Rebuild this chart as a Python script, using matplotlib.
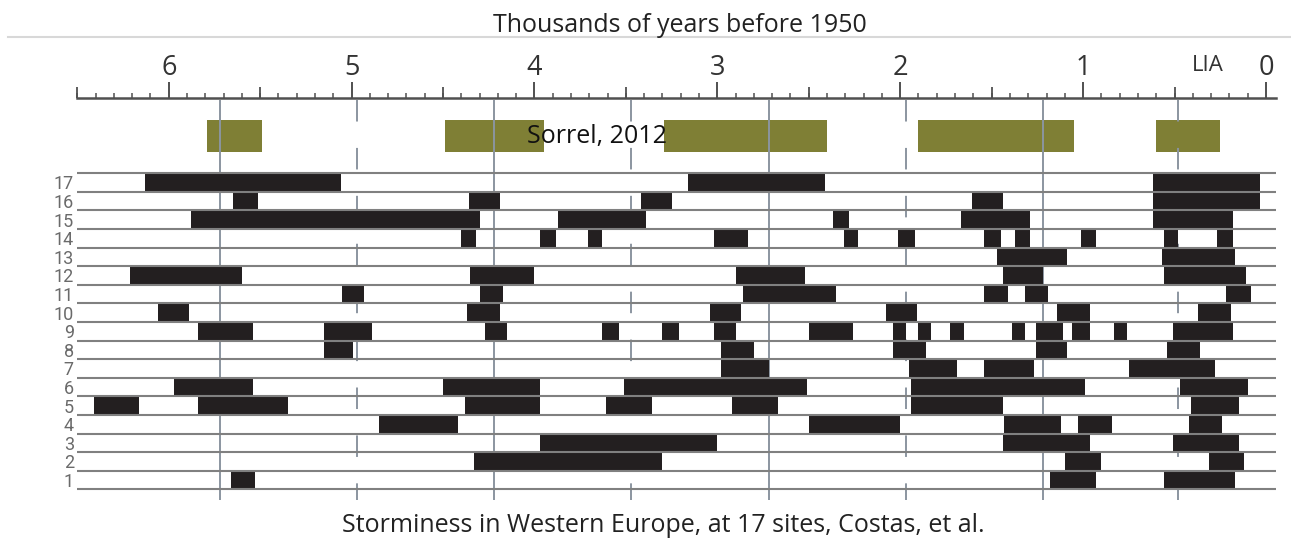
import matplotlib
matplotlib.use("Agg")
import matplotlib.pyplot as plt
from matplotlib.lines import Line2D
from matplotlib.ticker import MultipleLocator

plt.rcParams['lines.scale_dashes'] = False
TEXT_FONT = ['Open Sans', 'DejaVu Sans']
ROW_FONT = ['Liberation Sans Narrow', 'Roboto', 'DejaVu Sans']

# Time scale (thousands of years before 1950)
major_ticks = [6, 5, 4, 3, 2, 1, 0]
tick_labels = ['6', '5', '4', '3', '2', '1', '0']
half_ticks = [6.5, 5.5, 4.5, 3.5, 2.5, 1.5, 0.5]
lia_position = 0.32

# Sorrel (2012) storm periods, (start, end) in ka
sorrel_periods = [(5.79, 5.49), (4.49, 3.95), (3.29, 2.40), (1.90, 1.05), (0.60, 0.25)]

# Guide lines of the Costas panel
solid_guides = [5.72, 4.22, 2.72, 1.22]
dashed_guides = [4.97, 3.47, 1.97, 0.48]

# Storm periods at each of the 17 sites, (start, end) in ka
site_01 = [(5.66, 5.53), (1.18, 0.93), (0.56, 0.17)]
site_02 = [(4.33, 3.30), (1.10, 0.90), (0.31, 0.12)]
site_03 = [(3.97, 3.00), (1.44, 0.96), (0.51, 0.15)]
site_04 = [(4.85, 4.42), (2.50, 2.00), (1.43, 1.12), (1.03, 0.84), (0.42, 0.24)]
site_05 = [(6.41, 6.16), (5.84, 5.35), (4.38, 3.97), (3.61, 3.36), (2.92, 2.67),
           (1.94, 1.44), (0.41, 0.15)]
site_06 = [(5.97, 5.54), (4.50, 3.97), (3.51, 2.51), (1.94, 0.99), (0.47, 0.10)]
site_07 = [(2.98, 2.72), (1.95, 1.69), (1.54, 1.27), (0.75, 0.28)]
site_08 = [(5.15, 4.99), (2.98, 2.80), (2.04, 1.86), (1.26, 1.09), (0.54, 0.36)]
site_09 = [(5.84, 5.54), (5.15, 4.89), (4.27, 4.15), (3.63, 3.54), (3.30, 3.21),
           (3.02, 2.90), (2.50, 2.26), (2.04, 1.97), (1.90, 1.83), (1.73, 1.65),
           (1.39, 1.32), (1.26, 1.11), (1.06, 0.96), (0.83, 0.76), (0.51, 0.18)]
site_10 = [(6.06, 5.89), (4.37, 4.19), (3.04, 2.87), (2.08, 1.91), (1.14, 0.96),
           (0.37, 0.19)]
site_11 = [(5.05, 4.93), (4.30, 4.17), (2.86, 2.35), (1.54, 1.41), (1.32, 1.19),
           (0.22, 0.08)]
site_12 = [(6.21, 5.60), (4.35, 4.00), (2.90, 2.52), (1.44, 1.22), (0.56, 0.11)]
site_13 = [(1.47, 1.09), (0.57, 0.17)]
site_14 = [(4.40, 4.32), (3.97, 3.88), (3.71, 3.63), (3.02, 2.83), (2.31, 2.23),
           (2.01, 1.92), (1.54, 1.45), (1.37, 1.29), (1.01, 0.93), (0.56, 0.48),
           (0.27, 0.18)]
site_15 = [(5.88, 4.30), (3.87, 3.39), (2.37, 2.28), (1.67, 1.29), (0.62, 0.18)]
site_16 = [(5.65, 5.51), (4.36, 4.19), (3.42, 3.25), (1.61, 1.44), (0.62, 0.03)]
site_17 = [(6.13, 5.06), (3.16, 2.41), (0.62, 0.03)]

site_periods = [site_01, site_02, site_03, site_04, site_05, site_06, site_07,
                site_08, site_09, site_10, site_11, site_12, site_13, site_14,
                site_15, site_16, site_17]
site_labels = [str(i + 1) for i in range(len(site_periods))]

W, H = 1291, 538
fig = plt.figure(figsize=(W / 100, H / 100), dpi=100)
fig.patch.set_facecolor('white')

# pixel helpers for placing the axes box
def fx(px):
    return px / W

def fy(py):
    return 1 - py / H

ax = fig.add_axes([fx(77.3), fy(500), fx(1276) - fx(77.3), fy(98.3) - fy(500)])
ax.set_facecolor('none')
ax.set_xlim(6.5, -0.055)
ROW_H = 18.6
ax.set_ylim(1 + (480 - 500) / ROW_H, 1 + (480 - 98.3) / ROW_H)

for s in ['left', 'right', 'bottom']:
    ax.spines[s].set_visible(False)
ax.spines['top'].set_color('#505050')
ax.spines['top'].set_linewidth(1.8)

ax.xaxis.tick_top()
ax.set_xticks(major_ticks)
ax.set_xticklabels(tick_labels, fontfamily=TEXT_FONT)
ax.xaxis.set_minor_locator(MultipleLocator(0.1))
ax.tick_params(axis='x', which='major', direction='out', length=11.5, width=1.4,
               color='#505050', pad=0.5, labelsize=19.5, labelcolor='#333333')
ax.tick_params(axis='x', which='minor', direction='out', length=3.4, width=1.1,
               color='#505050')

sec = ax.secondary_xaxis('top')
sec.set_xticks(half_ticks)
sec.set_xticklabels([])
sec.spines['top'].set_visible(False)
sec.tick_params(axis='x', direction='out', length=8.0, width=1.3, color='#505050')

ax.set_yticks(range(1, len(site_periods) + 1))
ax.set_yticklabels(site_labels, fontfamily=ROW_FONT)
ax.tick_params(axis='y', length=0, pad=2.5, labelsize=13, labelcolor='#6a6a6a')

# LIA label above the scale
ax.text(lia_position, 1 + (480 - 70.7) / ROW_H, 'LIA', ha='center', va='baseline',
        fontsize=16, color='#333333', family=TEXT_FONT, clip_on=False)

# Sorrel storm periods
sorrel_y = 19.49
for start, end in sorrel_periods:
    ax.barh(sorrel_y, start - end, left=end, height=1.72, color='#7f7f35', zorder=1)
ax.text(3.656, sorrel_y, 'Sorrel, 2012', ha='center', va='center', fontsize=18,
        color='#111111', family=TEXT_FONT, zorder=6)

# guide lines of the lower panel
top_r = 1 + (480 - 100) / ROW_H
bot_r = 1 + (480 - 500) / ROW_H
for x in solid_guides:
    ax.plot([x, x], [top_r, bot_r], color='#8b95a0', lw=1.4, zorder=2,
            solid_capstyle='butt')
for x in dashed_guides:
    ax.plot([x, x], [top_r, bot_r], color='#8b95a0', lw=1.4, zorder=2,
            dashes=(15.5, 19), dash_capstyle='butt')

# storm periods per site
for i, periods in enumerate(site_periods):
    row = i + 1
    for start, end in periods:
        ax.barh(row, start - end, left=end, height=1.0, color='#231f20',
                linewidth=0, zorder=3)

# row separators
for k in range(len(site_periods) + 1):
    ax.axhline(k + 0.5, color='#808080', lw=1.5, zorder=4)

# header rule and texts
fig.add_artist(Line2D([fx(8), 1.0], [fy(36.5), fy(36.5)], transform=fig.transFigure,
                      color='#d8d8d8', lw=1.5))
fig.text(fx(680), fy(32), 'Thousands of years before 1950', ha='center',
         va='baseline', fontsize=18, color='#222222', family=TEXT_FONT)
fig.text(fx(663), fy(532), 'Storminess in Western Europe, at 17 sites, Costas, et al.',
         ha='center', va='baseline', fontsize=18, color='#222222', family=TEXT_FONT)

fig.savefig('out.png', dpi=100, facecolor='white')
